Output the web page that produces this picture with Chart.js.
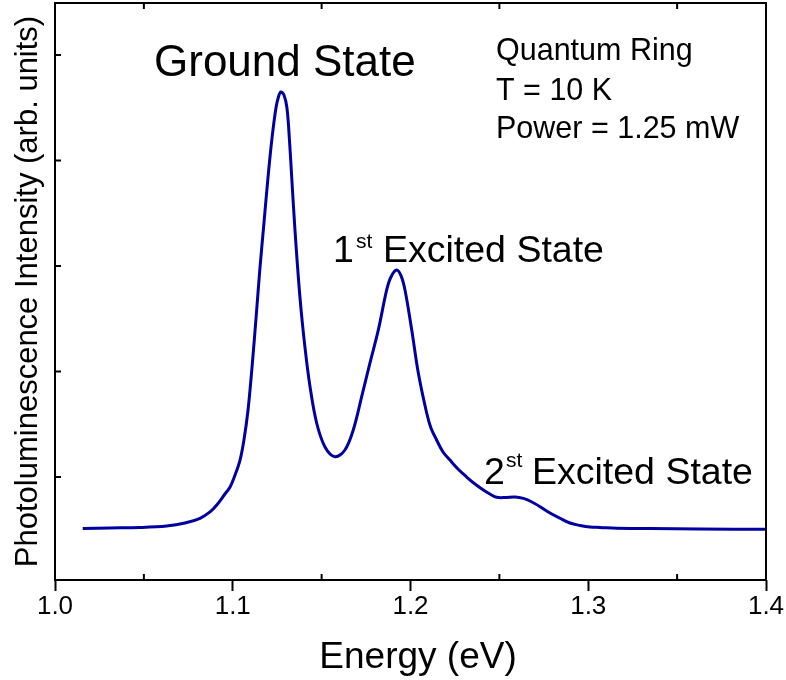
<!DOCTYPE html>
<html>
<head>
<meta charset="utf-8">
<script src="https://cdn.jsdelivr.net/npm/chart.js@4.4.0/dist/chart.umd.min.js"></script>
<style>
	html, body { margin: 0; padding: 0; background: #fff; }
</style>
</head>
<body>
<canvas id="plChart" width="786" height="680"></canvas>
<script>
// photon energy (eV)
var energy = [
	1.0156, 1.0309, 1.0478, 1.0628, 1.0731, 1.0816, 1.0872, 1.0910, 1.0956, 1.0985,
	1.1013, 1.1041, 1.1063, 1.1086, 1.1108, 1.1131, 1.1153, 1.1176, 1.1198, 1.1221,
	1.1243, 1.1257, 1.1270, 1.1288, 1.1305, 1.1319, 1.1332, 1.1350, 1.1378, 1.1406,
	1.1435, 1.1472, 1.1519, 1.1575, 1.1631, 1.1678, 1.1725, 1.1772, 1.1819, 1.1866,
	1.1890, 1.1922, 1.1947, 1.1969, 1.2007, 1.2044, 1.2091, 1.2115, 1.2147, 1.2183,
	1.2222, 1.2267, 1.2316, 1.2363, 1.2410, 1.2447, 1.2485, 1.2532, 1.2588, 1.2635,
	1.2672, 1.2729, 1.2785, 1.2841, 1.2897, 1.2954, 1.3010, 1.3066, 1.3160, 1.3347,
	1.3629, 1.4000
];
// PL intensity (arb. units)
var intensity = [
	0.512, 0.517, 0.522, 0.536, 0.564, 0.609, 0.669, 0.735, 0.839, 0.906,
	1.019, 1.161, 1.351, 1.635, 2.033, 2.507, 2.981, 3.417, 3.834, 4.214,
	4.498, 4.602, 4.650, 4.621, 4.498, 4.195, 3.834, 3.342, 2.706, 2.233,
	1.853, 1.512, 1.285, 1.193, 1.256, 1.446, 1.759, 2.081, 2.394, 2.773,
	2.896, 2.962, 2.906, 2.773, 2.394, 1.986, 1.607, 1.465, 1.351, 1.237,
	1.161, 1.076, 1.000, 0.934, 0.877, 0.839, 0.808, 0.806, 0.811, 0.798,
	0.773, 0.719, 0.659, 0.609, 0.564, 0.541, 0.526, 0.522, 0.514, 0.512,
	0.507, 0.505
];

var xTicks = [1.0, 1.1, 1.2, 1.3, 1.4];
var xMinorTicks = [1.05, 1.15, 1.25, 1.35];
var yTicks = [1, 2, 3, 4, 5];

var FONT = "'Liberation Sans', Arial, sans-serif";

var points = [];
for (var i in energy) {
	points[i] = { x: energy[i], y: intensity[i] };
}


// frame, inward ticks and the text labels
var framePlugin = {
	id: 'framePlugin',
	afterDraw: function (chart) {
		var ctx = chart.ctx;
		var a = chart.chartArea;
		var xs = chart.scales.x;
		var ys = chart.scales.y;

		ctx.save();
		ctx.strokeStyle = '#000';
		ctx.lineWidth = 2;
		ctx.strokeRect(a.left, a.top, a.right - a.left, a.bottom - a.top);

		ctx.beginPath();
		xMinorTicks.forEach(function (v) {
			var px = xs.getPixelForValue(v);
			ctx.moveTo(px, a.bottom);
			ctx.lineTo(px, a.bottom - 6);
			ctx.moveTo(px, a.top);
			ctx.lineTo(px, a.top + 6);
		});
		yTicks.forEach(function (v) {
			var py = ys.getPixelForValue(v);
			ctx.moveTo(a.left, py);
			ctx.lineTo(a.left + 6, py);
		});
		ctx.stroke();

		ctx.fillStyle = '#000';
		ctx.textAlign = 'left';
		ctx.textBaseline = 'alphabetic';

		ctx.font = '44px ' + FONT;
		ctx.fillText('Ground State', 154, 76);

		ctx.font = '37.5px ' + FONT;
		ctx.fillText('1', 333, 262);
		ctx.fillText('Excited State', 383, 262);
		ctx.fillText('2', 484, 484);
		ctx.fillText('Excited State', 532, 484);
		ctx.font = '21px ' + FONT;
		ctx.fillText('st', 356, 248);
		ctx.fillText('st', 506, 467);

		ctx.font = '30.5px ' + FONT;
		ctx.fillText('Quantum Ring', 496, 60);
		ctx.fillText('T = 10 K', 496, 100);
		ctx.fillText('Power = 1.25 mW', 496, 138);

		// x axis title
		ctx.font = '37px ' + FONT;
		ctx.textAlign = 'center';
		ctx.fillText('Energy (eV)', 418, 668);
		ctx.restore();
	}
};


var ctx = document.getElementById('plChart').getContext('2d');
new Chart(ctx, {
	type: 'line',
	data: {
		datasets: [
			{
				label: 'PL',
				data: points,
				borderColor: 'rgb(0,0,160)',
				borderWidth: 3,
				pointRadius: 0,
				fill: false,
				tension: 0.35
			}
		]
	},
	options: {
		responsive: false,
		animation: false,
		layout: {
			padding: { left: 0, top: 3, right: 20, bottom: 57.8 }
		},
		plugins: {
			legend: { display: false },
			tooltip: { enabled: false }
		},
		scales: {
			x: {
				type: 'linear',
				min: 1.0,
				max: 1.4,
				afterBuildTicks: function (axis) {
					axis.ticks = xTicks.map(function (v) { return { value: v }; });
				},
				ticks: {
					color: '#000',
					padding: 0,
					font: { family: FONT, size: 26 },
					callback: function (v) { return v.toFixed(1); }
				},
				grid: {
					display: true,
					drawOnChartArea: false,
					drawTicks: true,
					tickLength: 11,
					tickWidth: 2,
					tickColor: '#000'
				},
				border: { display: false },
				title: { display: false }
			},
			y: {
				type: 'linear',
				min: 0.024,
				max: 5.493,
				ticks: { display: false },
				grid: { display: false, drawTicks: false },
				border: { display: false },
				title: {
					display: true,
					text: 'Photoluminescence Intensity (arb. units)',
					color: '#000',
					font: { family: FONT, size: 31 },
					padding: { top: 9.4, bottom: 8.4 }
				}
			}
		}
	},
	plugins: [framePlugin]
});
</script>
</body>
</html>
